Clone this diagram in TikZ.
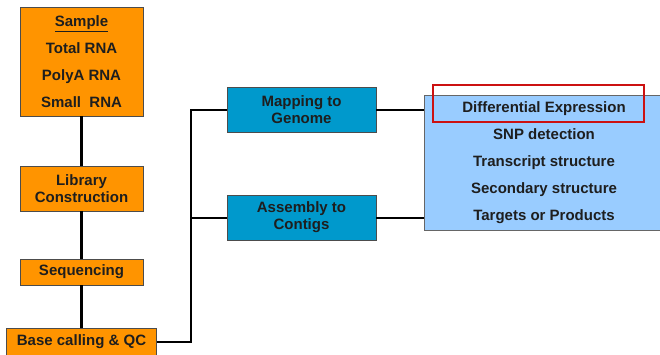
\documentclass[tikz,border=0pt]{standalone}
\usepackage{fontspec}
\setmainfont{Liberation Sans}
\definecolor{rnaorange}{HTML}{FF9400}
\definecolor{mapblue}{HTML}{0099CC}
\definecolor{listblue}{HTML}{99CCFF}
\definecolor{markred}{HTML}{CC1111}
\definecolor{inkgray}{HTML}{1E1E1E}
\tikzset{
  stagebox/.style={draw=black!70, fill=rnaorange, text=inkgray, align=center, inner sep=0pt,
    minimum width=123pt, font=\fontsize{15}{17}\selectfont\bfseries},
  mapbox/.style={draw=black!70, fill=mapblue, text=inkgray, align=center, inner sep=0pt,
    minimum width=149pt, minimum height=45pt, font=\fontsize{15}{17}\selectfont\bfseries},
  usebox/.style={draw=black!60, fill=listblue, text=inkgray, align=center, inner sep=0pt,
    minimum width=240pt, minimum height=135pt, font=\fontsize{15}{27}\selectfont\bfseries},
  trunk/.style={line width=3.5pt},
  wire/.style={line width=2pt}
}
\begin{document}
\begin{tikzpicture}[x=1pt,y=-1pt]
  \clip (0,0) rectangle (660,354);
  \fill[white] (0,0) rectangle (660,354);
  % left column
  \node[stagebox, minimum height=109pt, font=\fontsize{15}{27}\selectfont\bfseries] (sample) at (81.5,61.5)
    {\underline{Sample}\\Total RNA\\PolyA RNA\\Small~~RNA};
  \node[stagebox, minimum height=45pt] (library) at (81.5,188.5) {Library\\Construction};
  \node[stagebox, minimum height=26pt] (seq) at (81.5,272) {Sequencing};
  \node[stagebox, minimum width=150pt, minimum height=27pt] (base) at (81.5,342) {Base calling \& QC};
  \draw[trunk] (sample) -- (library);
  \draw[trunk] (library) -- (seq);
  \draw[trunk] (seq) -- (base);
  % middle column
  \node[mapbox] (map) at (301.5,109.5) {Mapping to\\Genome};
  \node[mapbox] (asm) at (301.5,217.5) {Assembly to\\Contigs};
  \coordinate (split) at (191,0);
  \draw[wire] (base.east) -- (base.east -| split) |- (map.west);
  \draw[wire] (split |- asm.west) -- (asm.west);
  % right column
  \node[usebox] (uses) at (544,162.5)
    {Differential Expression\\SNP detection\\Transcript structure\\Secondary structure\\Targets or Products};
  \draw[wire] (map.east) -- (map.east -| uses.west);
  \draw[wire] (asm.east) -- (asm.east -| uses.west);
  \draw[markred, line width=2pt] (433,85) rectangle (644,122);
\end{tikzpicture}
\end{document}
